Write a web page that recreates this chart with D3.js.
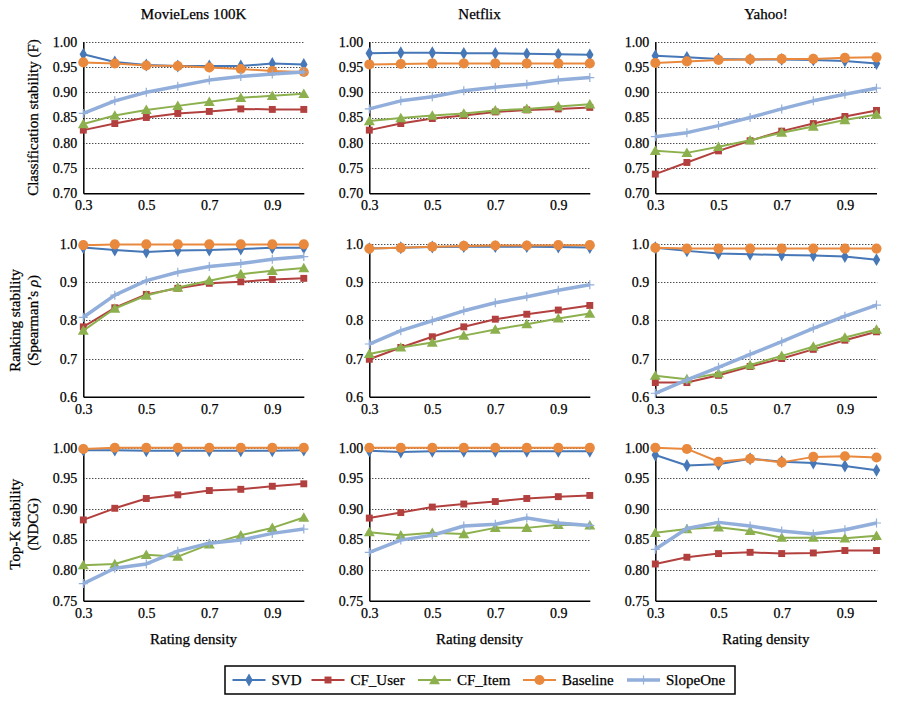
<!DOCTYPE html>
<html>
<head>
<meta charset="utf-8">
<script src="https://cdn.jsdelivr.net/npm/d3@7"></script>
<style>
  html, body { margin: 0; padding: 0; background: #fff; }
  svg { display: block; }
  svg text { font-family: "Liberation Serif", "Times New Roman", Times, serif; fill: #000; stroke: #000; stroke-width: 0.25px; }
</style>
</head>
<body>
<svg id="chart" width="899" height="709"></svg>
<script>
// ---------------- DATA ----------------
const densities = [0.3, 0.4, 0.5, 0.6, 0.7, 0.8, 0.9, 1.0];
const xTickValues = [0.3, 0.5, 0.7, 0.9];
const seriesNames = ["SVD", "CF_User", "CF_Item", "Baseline", "SlopeOne"];
const datasetNames = ["MovieLens 100K", "Netflix", "Yahoo!"];
const xAxisTitle = "Rating density";

const yTicksClassification = [0.70, 0.75, 0.80, 0.85, 0.90, 0.95, 1.00];
const yTicksRanking = [0.6, 0.7, 0.8, 0.9, 1.0];
const yTicksTopK = [0.75, 0.80, 0.85, 0.90, 0.95, 1.00];

// Each panel: values per series in order SVD, CF_User, CF_Item, Baseline, SlopeOne
const movielensClassification = [
  [0.975, 0.960, 0.954, 0.952, 0.952, 0.952, 0.957, 0.955],
  [0.825, 0.838, 0.850, 0.858, 0.862, 0.867, 0.866, 0.866],
  [0.837, 0.854, 0.865, 0.873, 0.881, 0.889, 0.893, 0.897],
  [0.959, 0.957, 0.953, 0.952, 0.949, 0.946, 0.942, 0.940],
  [0.858, 0.883, 0.900, 0.912, 0.924, 0.931, 0.936, 0.940]
];
const netflixClassification = [
  [0.977, 0.978, 0.978, 0.977, 0.977, 0.976, 0.975, 0.974],
  [0.825, 0.838, 0.848, 0.854, 0.861, 0.865, 0.867, 0.870],
  [0.843, 0.849, 0.854, 0.858, 0.864, 0.867, 0.872, 0.876],
  [0.955, 0.956, 0.957, 0.957, 0.957, 0.957, 0.957, 0.957],
  [0.867, 0.883, 0.891, 0.903, 0.910, 0.916, 0.924, 0.929]
];
const yahooClassification = [
  [0.972, 0.969, 0.966, 0.965, 0.965, 0.964, 0.962, 0.957],
  [0.738, 0.761, 0.784, 0.804, 0.823, 0.838, 0.852, 0.864],
  [0.784, 0.780, 0.792, 0.805, 0.820, 0.832, 0.845, 0.856],
  [0.958, 0.961, 0.964, 0.965, 0.966, 0.966, 0.968, 0.969],
  [0.812, 0.820, 0.834, 0.850, 0.867, 0.883, 0.896, 0.908]
];
const movielensRanking = [
  [0.991, 0.984, 0.979, 0.983, 0.984, 0.987, 0.990, 0.990],
  [0.783, 0.833, 0.868, 0.884, 0.897, 0.901, 0.907, 0.910],
  [0.773, 0.831, 0.865, 0.886, 0.904, 0.921, 0.930, 0.937],
  [0.997, 0.999, 0.999, 0.999, 0.999, 0.999, 0.999, 0.999],
  [0.808, 0.866, 0.904, 0.926, 0.941, 0.949, 0.960, 0.967]
];
const netflixRanking = [
  [0.988, 0.990, 0.992, 0.993, 0.993, 0.993, 0.992, 0.991],
  [0.698, 0.729, 0.757, 0.783, 0.803, 0.816, 0.827, 0.839],
  [0.712, 0.729, 0.742, 0.760, 0.776, 0.790, 0.805, 0.818],
  [0.988, 0.990, 0.993, 0.995, 0.996, 0.996, 0.997, 0.997],
  [0.738, 0.773, 0.799, 0.825, 0.846, 0.862, 0.879, 0.893]
];
const yahooRanking = [
  [0.990, 0.982, 0.975, 0.973, 0.971, 0.970, 0.967, 0.959],
  [0.637, 0.637, 0.656, 0.679, 0.700, 0.724, 0.748, 0.770],
  [0.655, 0.646, 0.661, 0.683, 0.707, 0.731, 0.755, 0.776],
  [0.990, 0.988, 0.988, 0.988, 0.988, 0.988, 0.988, 0.988],
  [0.609, 0.644, 0.677, 0.711, 0.744, 0.779, 0.811, 0.840]
];
const movielensTopK = [
  [0.996, 0.996, 0.995, 0.995, 0.995, 0.995, 0.995, 0.996],
  [0.882, 0.901, 0.917, 0.923, 0.930, 0.932, 0.937, 0.941],
  [0.808, 0.810, 0.825, 0.822, 0.842, 0.857, 0.869, 0.886],
  [0.998, 1.000, 1.000, 1.000, 1.000, 1.000, 1.000, 1.000],
  [0.778, 0.803, 0.810, 0.831, 0.844, 0.849, 0.860, 0.867]
];
const netflixTopK = [
  [0.995, 0.993, 0.994, 0.994, 0.994, 0.994, 0.994, 0.994],
  [0.885, 0.894, 0.903, 0.908, 0.912, 0.917, 0.920, 0.922],
  [0.862, 0.857, 0.861, 0.859, 0.869, 0.869, 0.874, 0.873],
  [1.000, 1.000, 1.000, 1.000, 1.000, 1.000, 1.000, 1.000],
  [0.829, 0.849, 0.857, 0.872, 0.875, 0.885, 0.877, 0.873]
];
const yahooTopK = [
  [0.988, 0.971, 0.973, 0.982, 0.977, 0.975, 0.970, 0.963],
  [0.810, 0.821, 0.827, 0.829, 0.827, 0.828, 0.832, 0.832],
  [0.861, 0.867, 0.870, 0.864, 0.853, 0.853, 0.852, 0.856],
  [1.000, 0.998, 0.977, 0.982, 0.976, 0.985, 0.986, 0.984],
  [0.834, 0.868, 0.878, 0.872, 0.864, 0.859, 0.866, 0.877]
];

// ---------------- STYLE / LAYOUT ----------------
const FONT = '"Liberation Serif", "Times New Roman", Times, serif';
const colors = { SVD: "#4677B6", CF_User: "#B2403E", CF_Item: "#8CB04E", Baseline: "#E8893E", SlopeOne: "#92AEDA" };
const lineWidths = { SVD: 2, CF_User: 2, CF_Item: 2, Baseline: 2, SlopeOne: 3.5 };

const cols = [
  { left: 83.3, right: 303.8 },
  { left: 369.3, right: 589.8 },
  { left: 655.3, right: 876.5 }
];
const rows = [
  { top: 41.7, bottom: 193.3, ticks: yTicksClassification, fmt: ".2f",
    panels: [movielensClassification, netflixClassification, yahooClassification],
    title: ["Classification stability (F)"] },
  { top: 244, bottom: 396.7, ticks: yTicksRanking, fmt: ".1f",
    panels: [movielensRanking, netflixRanking, yahooRanking],
    title: ["Ranking stability", "(Spearman\u2019s \u03C1)"] },
  { top: 447.7, bottom: 600.7, ticks: yTicksTopK, fmt: ".2f",
    panels: [movielensTopK, netflixTopK, yahooTopK],
    title: ["Top-K stability", "(NDCG)"] }
];

const svg = d3.select("#chart").attr("font-family", FONT);

function drawMarker(g, name, x, y) {
  const c = colors[name];
  if (name === "SlopeOne") {
    g.append("path")
      .attr("d", `M${x - 4.5},${y}H${x + 4.5}M${x},${y - 4.5}V${y + 4.5}`)
      .attr("stroke", c).attr("stroke-width", 1.2).attr("fill", "none");
    return;
  }
  let sym, size;
  if (name === "SVD") { sym = d3.symbolDiamond; size = 48; }
  else if (name === "CF_User") { sym = d3.symbolSquare; size = 48; }
  else if (name === "CF_Item") { sym = d3.symbolTriangle; size = 52; }
  else { sym = d3.symbolCircle; size = 80; }
  g.append("path")
    .attr("d", d3.symbol().type(sym).size(size)())
    .attr("transform", `translate(${x},${y})` + (name === "CF_Item" ? " translate(0,1)" : ""))
    .attr("fill", c);
}

rows.forEach((row, ri) => {
  const yDomain = [row.ticks[0], row.ticks[row.ticks.length - 1]];
  const y = d3.scaleLinear().domain(yDomain).range([row.bottom, row.top]);
  const fmt = d3.format(row.fmt);

  cols.forEach((col, ci) => {
    const x = d3.scaleLinear().domain([densities[0], densities[densities.length - 1]]).range([col.left, col.right]);
    const g = svg.append("g");

    // grid
    g.selectAll("line.grid").data(row.ticks.slice(1)).enter().append("line")
      .attr("x1", col.left).attr("x2", col.right + 1)
      .attr("y1", d => Math.round(y(d)) + 0.5).attr("y2", d => Math.round(y(d)) + 0.5)
      .attr("stroke", "#000").attr("stroke-width", 1).attr("stroke-dasharray", "1,2");

    // y axis
    const yAxis = d3.axisLeft(y).tickValues(row.ticks).tickFormat(fmt).tickSize(0).tickPadding(6);
    const ya = g.append("g").attr("transform", `translate(${col.left},0)`).call(yAxis);
    ya.attr("font-family", FONT).attr("font-size", 14);
    ya.select(".domain").attr("stroke", "#000").attr("stroke-width", 1.5);
    ya.selectAll("text").attr("fill", "#000");

    // x axis
    const xAxis = d3.axisBottom(x).tickValues(xTickValues).tickFormat(d3.format(".1f")).tickSize(0).tickPadding(7);
    const xa = g.append("g").attr("transform", `translate(0,${row.bottom})`).call(xAxis);
    xa.attr("font-family", FONT).attr("font-size", 14);
    xa.select(".domain").attr("stroke", "#000").attr("stroke-width", 1.5);
    xa.selectAll("text").attr("fill", "#000");

    // series
    const panel = row.panels[ci];
    seriesNames.forEach((name, si) => {
      const vals = panel[si];
      const pts = densities.map((d, i) => [x(d), y(vals[i])]);
      g.append("path")
        .attr("d", d3.line()(pts))
        .attr("fill", "none")
        .attr("stroke", colors[name])
        .attr("stroke-width", lineWidths[name])
        .attr("stroke-linejoin", "round");
      const mg = g.append("g");
      pts.forEach(p => drawMarker(mg, name, p[0], p[1]));
    });

    // column titles
    if (ri === 0) {
      svg.append("text").attr("x", (col.left + col.right) / 2).attr("y", 13.5).attr("dy", "0.35em")
        .attr("text-anchor", "middle").attr("font-size", 15).text(datasetNames[ci]);
    }
    // x axis title
    if (ri === rows.length - 1) {
      svg.append("text").attr("x", (col.left + col.right) / 2).attr("y", 638.3).attr("dy", "0.35em")
        .attr("text-anchor", "middle").attr("font-size", 15).text(xAxisTitle);
    }
  });

  // row y titles
  const cy = (row.top + row.bottom) / 2;
  const xs = row.title.length === 1 ? [33] : [15, 33];
  row.title.forEach((t, k) => {
    const txt = svg.append("text")
      .attr("transform", `translate(${xs[k]},${cy}) rotate(-90)`)
      .attr("dy", "0.35em").attr("text-anchor", "middle").attr("font-size", 15);
    if (t.indexOf("\u03C1") >= 0) {
      const parts = t.split("\u03C1");
      txt.append("tspan").text(parts[0]);
      txt.append("tspan").attr("font-style", "italic").text("\u03C1");
      txt.append("tspan").text(parts[1]);
    } else {
      txt.text(t);
    }
  });
});

// ---------------- LEGEND ----------------
const legend = svg.append("g");
legend.append("rect").attr("x", 225).attr("y", 666).attr("width", 510).attr("height", 28)
  .attr("fill", "#fff").attr("stroke", "#000").attr("stroke-width", 1.5);
const legendX = [232.5, 311.5, 418, 523, 627];
seriesNames.forEach((name, i) => {
  const lx = legendX[i], ly = 680;
  legend.append("line").attr("x1", lx).attr("x2", lx + 33).attr("y1", ly).attr("y2", ly)
    .attr("stroke", colors[name]).attr("stroke-width", lineWidths[name]);
  drawMarker(legend, name, lx + 16.5, ly);
  legend.append("text").attr("x", lx + 39).attr("y", ly).attr("dy", "0.35em")
    .attr("font-size", 15).text(name);
});
</script>
</body>
</html>
